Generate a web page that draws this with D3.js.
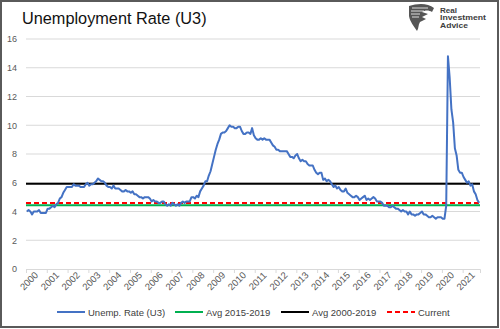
<!DOCTYPE html>
<html><head><meta charset="utf-8">
<script src="https://cdn.jsdelivr.net/npm/d3@7"></script>
<style>body{margin:0;background:#fff}svg{display:block}</style>
</head><body>
<svg id="c" width="500" height="329"></svg>
<script>
const years = d3.range(2000, 2022).map(String);
const yTicks = [0, 2, 4, 6, 8, 10, 12, 14, 16];
// Monthly U3 rate, Jan 2000 .. Oct 2021
const u3 = [
 4.0,4.1,4.0,3.8,4.0,4.0,4.0,4.1,3.9,3.9,3.9,3.9,
 4.2,4.2,4.3,4.4,4.3,4.5,4.6,4.9,5.0,5.3,5.5,5.7,
 5.7,5.7,5.7,5.9,5.8,5.8,5.8,5.7,5.7,5.7,5.9,6.0,
 5.8,5.9,5.9,6.0,6.1,6.3,6.2,6.1,6.1,6.0,5.8,5.7,
 5.7,5.6,5.8,5.6,5.6,5.6,5.5,5.4,5.4,5.5,5.4,5.4,
 5.3,5.4,5.2,5.2,5.1,5.0,5.0,4.9,5.0,5.0,5.0,4.9,
 4.7,4.8,4.7,4.7,4.6,4.6,4.7,4.7,4.5,4.4,4.5,4.4,
 4.6,4.5,4.4,4.5,4.4,4.6,4.7,4.6,4.7,4.7,4.7,5.0,
 5.0,4.9,5.1,5.0,5.4,5.6,5.8,6.1,6.1,6.5,6.8,7.3,
 7.8,8.3,8.7,9.0,9.4,9.5,9.5,9.6,9.8,10.0,9.9,9.9,
 9.8,9.8,9.9,9.9,9.6,9.4,9.4,9.5,9.5,9.4,9.8,9.3,
 9.1,9.0,9.0,9.1,9.0,9.1,9.0,9.0,9.0,8.8,8.6,8.5,
 8.3,8.3,8.2,8.2,8.2,8.2,8.2,8.0,7.8,7.8,7.7,7.9,
 8.0,7.7,7.5,7.6,7.5,7.5,7.3,7.2,7.2,7.2,6.9,6.7,
 6.6,6.7,6.7,6.2,6.3,6.1,6.2,6.1,5.9,5.7,5.8,5.6,
 5.7,5.5,5.4,5.4,5.6,5.3,5.2,5.1,5.0,5.0,5.1,5.0,
 4.8,4.9,5.0,5.1,4.8,4.9,4.8,4.9,5.0,4.9,4.7,4.7,
 4.7,4.6,4.4,4.4,4.4,4.3,4.3,4.4,4.3,4.2,4.2,4.1,
 4.0,4.1,4.0,4.0,3.8,4.0,3.8,3.8,3.7,3.8,3.8,3.9,
 4.0,3.8,3.8,3.7,3.6,3.6,3.7,3.6,3.5,3.6,3.6,3.6,
 3.5,3.5,4.4,14.8,13.3,11.1,10.2,8.4,7.9,6.9,6.7,6.7,
 6.4,6.2,6.0,6.1,5.8,5.9,5.4,5.2,4.8,4.6
];
const avg2015_2019 = 4.43;
const avg2000_2019 = 5.93;
const current = 4.6;
const legendLabels = ["Unemp. Rate (U3)", "Avg 2015-2019", "Avg 2000-2019", "Current"];

const svg = d3.select("#c");
const L = 26, R = 480, T = 39, B = 269;
const nMonths = 262;
const x = d3.scaleLinear().domain([0, nMonths]).range([L, R]);
const y = d3.scaleLinear().domain([0, 16]).range([B, T]);
const font = "'Liberation Sans', Arial, sans-serif";

svg.append("rect").attr("x",1).attr("y",1).attr("width",497).attr("height",326)
  .attr("fill","#fff").attr("stroke","#5a5a5a").attr("stroke-width",2);

// title
svg.append("text").attr("x",22).attr("y",23.5).attr("font-family",font)
  .attr("font-size",16.3).attr("fill","#111").text("Unemployment Rate (U3)");

// logo
const logo = svg.append("g");
logo.append("path").attr("d","M409,6 C418,3 428,3 434,8 L432,12 C429,10 425,10 422,12 L428,14 L422,17 L426,19 L420,22 C418,25 419,28 417,31 C414,26 410,22 409,16 Z")
  .attr("fill","#555");
logo.append("path").attr("d","M412,8 L428,8 M411,11 L424,11 M411,14 L420,14 M412,17 L419,17")
  .attr("stroke","#fff").attr("stroke-width",0.8);
[["Real",12.5,17],["Investment",20,46],["Advice",27.5,28]].forEach(([t,yy,w])=>{
  logo.append("text").attr("x",440).attr("y",yy).attr("font-family",font)
    .attr("font-weight","bold").attr("font-size",7.2).attr("fill","#3d3d3d")
    .attr("textLength",w).attr("lengthAdjust","spacingAndGlyphs").text(t);
});

// gridlines
svg.append("g").selectAll("line").data(yTicks.filter(d=>d>0)).join("line")
  .attr("x1",L).attr("x2",R).attr("y1",d=>y(d)).attr("y2",d=>y(d))
  .attr("stroke","#d9d9d9").attr("stroke-width",1);

// y labels
svg.append("g").selectAll("text").data(yTicks).join("text")
  .attr("x",17).attr("y",d=>y(d)+3.3).attr("text-anchor","end")
  .attr("font-family",font).attr("font-size",9).attr("fill","#595959").text(d=>d);

// x axis
const xAxis = d3.axisBottom(x).tickValues(d3.range(0, nMonths+1, 12))
  .tickSize(4).tickFormat("");
const xa = svg.append("g").attr("transform",`translate(0,${B})`).call(xAxis);
xa.select(".domain").attr("stroke","#d9d9d9");
xa.selectAll(".tick line").attr("stroke","#d9d9d9");

svg.append("g").selectAll("text").data(years).join("text")
  .attr("transform",(d,i)=>`translate(${x(i*12)+3},${B+12}) rotate(-45)`)
  .attr("text-anchor","middle").attr("dy","0.35em").attr("font-family",font).attr("font-size",9.5)
  .attr("fill","#595959").text(d=>d);

// reference lines
const ref = [
  {v: avg2015_2019, c:"#00b050", dash:null},
  {v: avg2000_2019, c:"#000000", dash:null},
  {v: current, c:"#ff0000", dash:"5,3"}
];
svg.append("g").selectAll("line").data(ref).join("line")
  .attr("x1",L).attr("x2",R).attr("y1",d=>y(d.v)).attr("y2",d=>y(d.v))
  .attr("stroke",d=>d.c).attr("stroke-width",2).attr("stroke-dasharray",d=>d.dash);

// series
svg.append("path").datum(u3)
  .attr("d", d3.line().x((d,i)=>x(i+0.5)).y(d=>y(d)))
  .attr("fill","none").attr("stroke","#4472c4").attr("stroke-width",2)
  .attr("stroke-linejoin","round");

// legend
const leg = [
  {t:legendLabels[0], c:"#4472c4", dash:null, x:57},
  {t:legendLabels[1], c:"#00b050", dash:null, x:175},
  {t:legendLabels[2], c:"#000000", dash:null, x:281},
  {t:legendLabels[3], c:"#ff0000", dash:"5,3", x:387}
];
const lg = svg.append("g").selectAll("g").data(leg).join("g");
lg.append("line").attr("x1",d=>d.x).attr("x2",d=>d.x+28).attr("y1",312).attr("y2",312)
  .attr("stroke",d=>d.c).attr("stroke-width",2).attr("stroke-dasharray",d=>d.dash);
lg.append("text").attr("x",d=>d.x+31).attr("y",315.5).attr("font-family",font)
  .attr("font-size",9.5).attr("fill","#404040").text(d=>d.t);
</script>
</body></html>
